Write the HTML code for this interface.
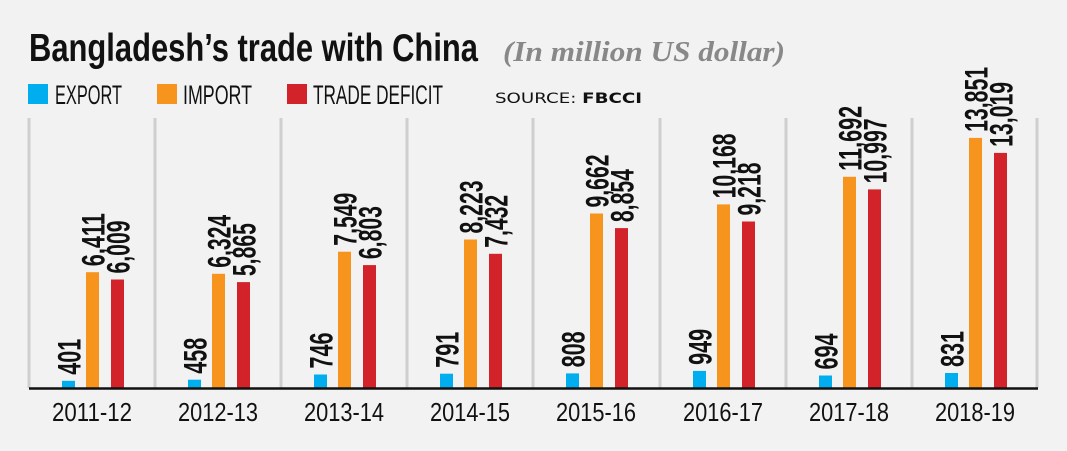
<!DOCTYPE html>
<html><head><meta charset="utf-8"><style>
html,body{margin:0;padding:0;background:#f2f2f2}
svg{display:block}
.v{font-family:"Liberation Sans",sans-serif;font-weight:bold;font-size:32px;fill:#111}
.y{font-family:"Liberation Sans",sans-serif;font-size:26px;fill:#111;text-anchor:middle}
</style></head><body>
<svg width="1067" height="451" viewBox="0 0 1067 451" xmlns="http://www.w3.org/2000/svg">
<rect width="1067" height="451" fill="#f2f2f2"/>
<text x="29" y="61" font-family="Liberation Sans,sans-serif" font-weight="bold" font-size="39" fill="#111" textLength="449" lengthAdjust="spacingAndGlyphs">Bangladesh’s trade with China</text>
<text x="503" y="61" font-family="Liberation Serif,serif" font-style="italic" font-weight="bold" font-size="29" fill="#888" textLength="282" lengthAdjust="spacingAndGlyphs">(In million US dollar)</text>
<rect x="28" y="84" width="20" height="20" fill="#00aeef"/>
<text x="55" y="104" font-family="Liberation Sans,sans-serif" font-size="27" fill="#111" textLength="67" lengthAdjust="spacingAndGlyphs">EXPORT</text>
<rect x="157" y="84" width="20" height="20" fill="#f7941d"/>
<text x="183" y="104" font-family="Liberation Sans,sans-serif" font-size="27" fill="#111" textLength="69" lengthAdjust="spacingAndGlyphs">IMPORT</text>
<rect x="287" y="84" width="20" height="20" fill="#d2232a"/>
<text x="313" y="104" font-family="Liberation Sans,sans-serif" font-size="27" fill="#111" textLength="130" lengthAdjust="spacingAndGlyphs">TRADE DEFICIT</text>
<text x="495" y="103" font-family="DejaVu Sans,sans-serif" font-size="14" fill="#111" textLength="147" lengthAdjust="spacingAndGlyphs">SOURCE: <tspan font-weight="bold">FBCCI</tspan></text>

<g stroke="#cfcfcf" stroke-width="3">
<line x1="29" y1="118" x2="29" y2="388"/><line x1="155" y1="118" x2="155" y2="388"/><line x1="281" y1="118" x2="281" y2="388"/><line x1="407" y1="118" x2="407" y2="388"/><line x1="533" y1="118" x2="533" y2="388"/><line x1="660" y1="118" x2="660" y2="388"/><line x1="786" y1="118" x2="786" y2="388"/><line x1="912" y1="118" x2="912" y2="388"/><line x1="1037" y1="118" x2="1037" y2="388"/>
</g>

<g transform="translate(29,0)">
<rect x="33" y="380.8" width="13" height="7.2" fill="#00aeef"/><rect x="57" y="272.2" width="13" height="115.8" fill="#f7941d"/><rect x="82" y="279.5" width="13" height="108.5" fill="#d2232a"/>
<text class="v" transform="translate(51.5,374.8) rotate(-90)" textLength="36" lengthAdjust="spacingAndGlyphs">401</text>
<text class="v" transform="translate(75.5,266.2) rotate(-90)" textLength="53" lengthAdjust="spacingAndGlyphs">6,411</text>
<text class="v" transform="translate(100.5,273.5) rotate(-90)" textLength="53" lengthAdjust="spacingAndGlyphs">6,009</text>
<text class="y" x="63" y="421" textLength="80" lengthAdjust="spacingAndGlyphs">2011-12</text></g>

<g transform="translate(155,0)">
<rect x="33" y="379.7" width="13" height="8.3" fill="#00aeef"/><rect x="57" y="273.8" width="13" height="114.2" fill="#f7941d"/><rect x="82" y="282.1" width="13" height="105.9" fill="#d2232a"/>
<text class="v" transform="translate(51.5,373.7) rotate(-90)" textLength="36" lengthAdjust="spacingAndGlyphs">458</text>
<text class="v" transform="translate(75.5,267.8) rotate(-90)" textLength="53" lengthAdjust="spacingAndGlyphs">6,324</text>
<text class="v" transform="translate(100.5,276.1) rotate(-90)" textLength="53" lengthAdjust="spacingAndGlyphs">5,865</text>
<text class="y" x="63" y="421" textLength="80" lengthAdjust="spacingAndGlyphs">2012-13</text></g>

<g transform="translate(281,0)">
<rect x="33" y="374.5" width="13" height="13.5" fill="#00aeef"/><rect x="57" y="251.7" width="13" height="136.3" fill="#f7941d"/><rect x="82" y="265.1" width="13" height="122.9" fill="#d2232a"/>
<text class="v" transform="translate(51.5,368.5) rotate(-90)" textLength="36" lengthAdjust="spacingAndGlyphs">746</text>
<text class="v" transform="translate(75.5,245.7) rotate(-90)" textLength="53" lengthAdjust="spacingAndGlyphs">7,549</text>
<text class="v" transform="translate(100.5,259.1) rotate(-90)" textLength="53" lengthAdjust="spacingAndGlyphs">6,803</text>
<text class="y" x="63" y="421" textLength="80" lengthAdjust="spacingAndGlyphs">2013-14</text></g>

<g transform="translate(407,0)">
<rect x="33" y="373.7" width="13" height="14.3" fill="#00aeef"/><rect x="57" y="239.5" width="13" height="148.5" fill="#f7941d"/><rect x="82" y="253.8" width="13" height="134.2" fill="#d2232a"/>
<text class="v" transform="translate(51.5,367.7) rotate(-90)" textLength="36" lengthAdjust="spacingAndGlyphs">791</text>
<text class="v" transform="translate(75.5,233.5) rotate(-90)" textLength="53" lengthAdjust="spacingAndGlyphs">8,223</text>
<text class="v" transform="translate(100.5,247.8) rotate(-90)" textLength="53" lengthAdjust="spacingAndGlyphs">7,432</text>
<text class="y" x="63" y="421" textLength="80" lengthAdjust="spacingAndGlyphs">2014-15</text></g>

<g transform="translate(533,0)">
<rect x="33" y="373.4" width="13" height="14.6" fill="#00aeef"/><rect x="57" y="213.5" width="13" height="174.5" fill="#f7941d"/><rect x="82" y="228.1" width="13" height="159.9" fill="#d2232a"/>
<text class="v" transform="translate(51.5,367.4) rotate(-90)" textLength="36" lengthAdjust="spacingAndGlyphs">808</text>
<text class="v" transform="translate(75.5,207.5) rotate(-90)" textLength="53" lengthAdjust="spacingAndGlyphs">9,662</text>
<text class="v" transform="translate(100.5,222.1) rotate(-90)" textLength="53" lengthAdjust="spacingAndGlyphs">8,854</text>
<text class="y" x="63" y="421" textLength="80" lengthAdjust="spacingAndGlyphs">2015-16</text></g>

<g transform="translate(660,0)">
<rect x="33" y="370.9" width="13" height="17.1" fill="#00aeef"/><rect x="57" y="204.4" width="13" height="183.6" fill="#f7941d"/><rect x="82" y="221.5" width="13" height="166.5" fill="#d2232a"/>
<text class="v" transform="translate(51.5,364.9) rotate(-90)" textLength="36" lengthAdjust="spacingAndGlyphs">949</text>
<text class="v" transform="translate(75.5,198.4) rotate(-90)" textLength="65" lengthAdjust="spacingAndGlyphs">10,168</text>
<text class="v" transform="translate(100.5,215.5) rotate(-90)" textLength="53" lengthAdjust="spacingAndGlyphs">9,218</text>
<text class="y" x="63" y="421" textLength="80" lengthAdjust="spacingAndGlyphs">2016-17</text></g>

<g transform="translate(786,0)">
<rect x="33" y="375.5" width="13" height="12.5" fill="#00aeef"/><rect x="57" y="176.8" width="13" height="211.2" fill="#f7941d"/><rect x="82" y="189.4" width="13" height="198.6" fill="#d2232a"/>
<text class="v" transform="translate(51.5,369.5) rotate(-90)" textLength="36" lengthAdjust="spacingAndGlyphs">694</text>
<text class="v" transform="translate(75.5,170.8) rotate(-90)" textLength="65" lengthAdjust="spacingAndGlyphs">11,692</text>
<text class="v" transform="translate(100.5,183.4) rotate(-90)" textLength="65" lengthAdjust="spacingAndGlyphs">10,997</text>
<text class="y" x="63" y="421" textLength="80" lengthAdjust="spacingAndGlyphs">2017-18</text></g>

<g transform="translate(912,0)">
<rect x="33" y="373" width="13" height="15" fill="#00aeef"/><rect x="57" y="137.9" width="13" height="250.1" fill="#f7941d"/><rect x="82" y="152.9" width="13" height="235.1" fill="#d2232a"/>
<text class="v" transform="translate(51.5,367) rotate(-90)" textLength="36" lengthAdjust="spacingAndGlyphs">831</text>
<text class="v" transform="translate(75.5,131.9) rotate(-90)" textLength="65" lengthAdjust="spacingAndGlyphs">13,851</text>
<text class="v" transform="translate(100.5,146.9) rotate(-90)" textLength="65" lengthAdjust="spacingAndGlyphs">13,019</text>
<text class="y" x="63" y="421" textLength="80" lengthAdjust="spacingAndGlyphs">2018-19</text></g>

<line x1="29" y1="388.5" x2="1038" y2="388.5" stroke="#111" stroke-width="2.5"/>
</svg>
</body></html>
